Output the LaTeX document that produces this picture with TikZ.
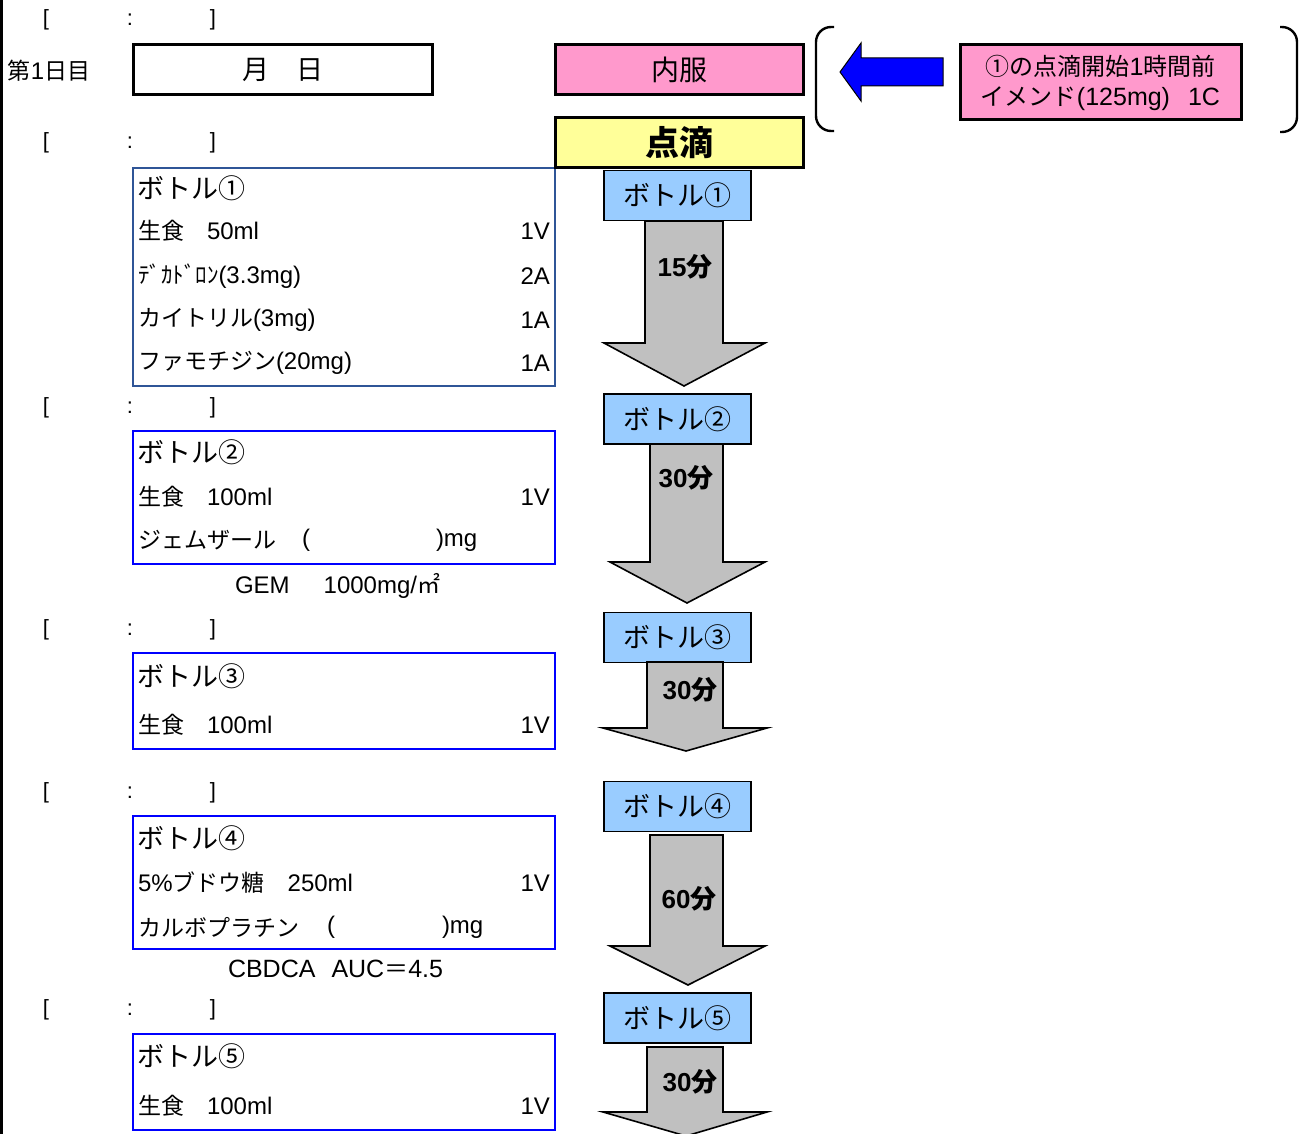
\documentclass[tikz,border=0pt]{standalone}
\usepackage{fontspec}
\setmainfont{Noto Sans CJK JP}
\newfontfamily\lat{Liberation Sans}
\usetikzlibrary{calc}
\definecolor{pinkfill}{HTML}{FF99CC}
\definecolor{yellowfill}{HTML}{FFFF99}
\definecolor{lbluefill}{HTML}{99CCFF}
\definecolor{grayfill}{HTML}{C0C0C0}
\definecolor{boxone}{HTML}{2F5597}
\definecolor{pureblue}{HTML}{0000FF}
\newcommand\fs[1]{\fontsize{#1}{#1}\selectfont}
\newcommand\lt[1]{{\lat\fontsize{24}{24}\selectfont #1}}
\tikzset{
  hdrbox/.style={draw=black, line width=3pt, minimum width=248pt, minimum height=50pt, font=\fs{28}},
  bottlelabel/.style={draw=black, line width=1.6pt, fill=lbluefill, minimum width=147pt, minimum height=50pt, font=\fs{27}},
  flowarrow/.style={draw=black, line width=1.6pt, fill=grayfill, line join=miter},
  minlabel/.style={font=\fs{26}\bfseries},
  detailbox/.style={draw=pureblue, line width=2.5pt},
  ttl/.style={anchor=west, font=\fs{27}},
  ln/.style={anchor=west, font=\fs{23}},
  qty/.style={anchor=east, font=\lat\fs{24}},
  slot/.style={font=\lat\fs{22}},
  bracketline/.style={line width=2.4pt, rounded corners=15pt},
}
\begin{document}
\begin{tikzpicture}[x=1pt,y=-1pt, every node/.style={inner sep=0pt, outer sep=0pt}]
\useasboundingbox (0,0) rectangle (1300,1134);
\draw[line width=3pt] (1.5,0) -- (1.5,1134);

% time slots
\foreach \yy/\nm in {20/a,143/b,408/c,630/d,793/e,1010/f}{
  \node[slot] (tl\nm) at (46,\yy) {[};
  \node[slot] (tc\nm) at (130,\yy) {:};
  \node[slot] (tr\nm) at (213,\yy) {]};
}

% header row
\node[anchor=west, font=\fs{23}] (day) at (8,71) {第{\lat\fs{24}1}日目};
\node[draw=black, line width=3pt, minimum width=299pt, minimum height=50pt, font=\fs{27}] (date) at (282.5,70) {月　日};
\node[hdrbox, fill=pinkfill] (naifuku) at (679,70) {内服};

% note with brackets
\draw[bracketline] (834,27) -- (816,27) -- (816,131) -- (834,131);
\draw[bracketline] (1280,27) -- (1297,27) -- (1297,132) -- (1280,132);
\node[draw=black, line width=3pt, fill=pinkfill, minimum width=281pt, minimum height=75pt, font=\fs{24}, align=center] (note) at (1100.5,82.5) {①の点滴開始{\lat\fs{25}1}時間前\\[6pt]イメンド{\lat\fs{25}(125mg)\hspace{18pt}1C}};
\coordinate (arrtail) at (943,72);
\filldraw[fill=pureblue, draw=black, line width=1pt, line join=miter] ($(arrtail)+(0,-14)$) -- (861,58) -- (861,43) -- (840,72) -- (861,101) -- (861,86) -- ($(arrtail)+(0,14)$) -- cycle;

% bottle 1 detail
\node[draw=boxone, line width=2.5pt, minimum width=422pt, minimum height=218pt] (d1) at (344,277) {};
\node[ttl] (d1t) at (137,188) {ボトル①};
\node[ln] (d1a) at (138,231) {生食　\lt{50ml}};
\node[qty] (d1aq) at (550,231) {1V};
\node[ln] (d1b) at (138,276) {ﾃﾞｶﾄﾞﾛﾝ\lt{(3.3mg)}};
\node[qty] (d1bq) at (550,276) {2A};
\node[ln] (d1c) at (138,320) {カイトリル\lt{(3mg)}};
\node[qty] (d1cq) at (550,320) {1A};
\node[ln] (d1d) at (138,363) {ファモチジン\lt{(20mg)}};
\node[qty] (d1dq) at (550,363) {1A};

\node[hdrbox, fill=yellowfill, font=\fs{34}\bfseries] (tenteki) at (679,143) {点滴};

% bottle 2 detail
\node[detailbox, minimum width=422pt, minimum height=133pt] (d2) at (344,497.5) {};
\node[ttl] (d2t) at (137,452) {ボトル②};
\node[ln] (d2a) at (138,497) {生食　\lt{100ml}};
\node[qty] (d2aq) at (550,497) {1V};
\node[ln] (d2b) at (138,540) {ジェムザール};
\node[ln] (d2c) at (302,540) {\lt{(}};
\node[ln] (d2d) at (436,540) {\lt{)mg}};
\node[anchor=west] (gem) at (235,586) {\lt{GEM\hspace{34pt}1000mg/}{\fs{23}㎡}};

% bottle 3 detail
\node[detailbox, minimum width=422pt, minimum height=96pt] (d3) at (344,701) {};
\node[ttl] (d3t) at (137,676) {ボトル③};
\node[ln] (d3a) at (138,725) {生食　\lt{100ml}};
\node[qty] (d3aq) at (550,725) {1V};

% bottle 4 detail
\node[detailbox, minimum width=422pt, minimum height=133pt] (d4) at (344,882.5) {};
\node[ttl] (d4t) at (137,838) {ボトル④};
\node[ln] (d4a) at (138,883) {\lt{5\%}ブドウ糖　\lt{250ml}};
\node[qty] (d4aq) at (550,883) {1V};
\node[ln] (d4b) at (138,927) {カルボプラチン};
\node[ln] (d4c) at (327,927) {\lt{(}};
\node[ln] (d4d) at (442,927) {\lt{)mg}};
\node[anchor=west] (cbdca) at (228,969) {{\lat\fs{25}CBDCA\hspace{16pt}AUC}{\fs{24}＝}{\lat\fs{25}4.5}};

% bottle 5 detail
\node[detailbox, minimum width=422pt, minimum height=96pt] (d5) at (344,1082) {};
\node[ttl] (d5t) at (137,1056) {ボトル⑤};
\node[ln] (d5a) at (138,1106) {生食　\lt{100ml}};
\node[qty] (d5aq) at (550,1106) {1V};

% right column flow
\node[bottlelabel] (r1) at (677.5,195.5) {ボトル①};
\node[bottlelabel] (r2) at (677.5,419) {ボトル②};
\node[bottlelabel] (r3) at (677.5,637.5) {ボトル③};
\node[bottlelabel] (r4) at (677.5,806.5) {ボトル④};
\node[bottlelabel] (r5) at (677.5,1018) {ボトル⑤};

\draw[flowarrow] (645,221) -- (723,221) -- (723,343) -- (765,343) -- (684,386) -- (604,343) -- (645,343) -- cycle;
\draw[flowarrow] (650,444) -- (723,444) -- (723,562) -- (765,562) -- (687,603) -- (610,562) -- (650,562) -- cycle;
\draw[flowarrow] (647,662) -- (723,662) -- (723,728) -- (767,728) -- (686,751) -- (603,728) -- (647,728) -- cycle;
\draw[flowarrow] (650,835) -- (723,835) -- (723,946) -- (765,946) -- (688,985) -- (610,946) -- (650,946) -- cycle;
\draw[flowarrow] (647,1047) -- (723,1047) -- (723,1112) -- (767,1112) -- (686,1136) -- (603,1112) -- (647,1112) -- cycle;

\node[minlabel] (m1) at (685,267) {{\lat 15}分};
\node[minlabel] (m2) at (686,478) {{\lat 30}分};
\node[minlabel] (m3) at (690,690) {{\lat 30}分};
\node[minlabel] (m4) at (689,899) {{\lat 60}分};
\node[minlabel] (m5) at (690,1082) {{\lat 30}分};
\end{tikzpicture}
\end{document}
